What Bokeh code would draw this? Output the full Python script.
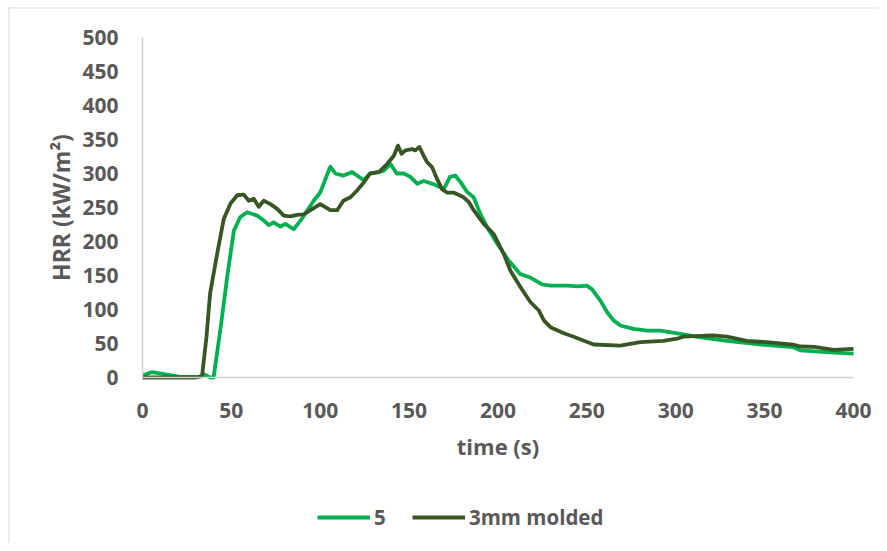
from bokeh.plotting import figure
from bokeh.models import Range1d, Legend, LegendItem, FixedTicker, Span
from bokeh.embed import file_html
from bokeh.resources import INLINE

# ---- data ----
t_5 = [0, 5.5, 12, 21, 32, 34.5, 38, 40, 44, 47.6, 51.4, 55, 58.9, 64.5, 68.2, 71, 73.8,
       77.6, 80.4, 85, 89, 96.3, 100, 104, 105.7, 108.5, 113, 118, 120.7, 124.5, 128,
       135.7, 139.5, 143, 147, 150.7, 154.5, 158.2, 164, 169.5, 173, 176, 179, 182.6,
       186.3, 190, 193.9, 199.5, 206, 212.6, 218.2, 224.8, 229.5, 238.8, 245, 250, 252.8,
       257.6, 261.4, 265, 268.8, 276.3, 283.8, 291.3, 302.6, 313.9, 328.8, 345.7, 366,
       370, 387, 400]
hrr_5 = [3, 8, 5, 1, 1, 5, 0, 0, 74, 147, 216, 236, 243, 238, 231, 224, 228,
         222, 226, 218, 231, 260, 272, 299, 310, 300, 297, 302, 297, 290, 300,
         304, 314, 300, 300, 295, 285, 289, 284, 277, 295, 297, 287, 273,
         265, 241, 221, 197, 172, 152, 147, 137, 135, 135, 134, 135, 130,
         113, 96, 84, 76.5, 71.5, 69, 69, 64, 59, 54, 49, 44.6,
         40, 37, 35]

t_3mm = [0, 10, 20, 30, 33.5, 36, 38, 42, 45.7, 49.5, 53.3, 57, 59.8, 62.6, 65.4, 68.2,
         72, 75.8, 79.5, 83.2, 87, 90.7, 94.5, 100, 105.7, 109.5, 113, 117, 120.7, 124.5,
         128, 133, 137.6, 141.4, 143.7, 145.7, 147.9, 151.7, 153.5, 155.8, 158.2, 160,
         163, 165.7, 168.5, 171.3, 175, 180.7, 183.6, 186.3, 192, 197.6, 203.2, 207,
         212.6, 218.2, 223, 225.8, 229.5, 237, 242.6, 253.8, 268.8, 280, 293, 300.7,
         304.4, 321, 328.8, 340, 351, 366, 370, 378, 388.8, 400]
hrr_3mm = [0, 0, 0, 0, 2, 60, 123, 182, 233, 256, 268, 269, 260, 263, 251, 260,
           255, 248, 238, 237, 239, 240, 246, 255, 246, 246, 260, 265, 275, 287,
           300, 302, 314, 326, 341, 329, 334, 336, 334, 339, 326, 317,
           309, 292, 277, 272, 272, 265, 258, 246, 226, 211, 182, 157,
           133, 111, 98.5, 84, 74, 65, 60, 48.5, 47, 52, 54, 57,
           60, 62, 60, 54, 52, 48.5, 45.6, 45, 40.6, 42]

series_names = ["5", "3mm molded"]
x_ticks = [0, 50, 100, 150, 200, 250, 300, 350, 400]
y_ticks = [0, 50, 100, 150, 200, 250, 300, 350, 400, 450, 500]
X_MIN, X_MAX = 0, 400
Y_MIN, Y_MAX = 0, 500

# ---- layout (pixels) ----
W, H = 879, 543
FL, FT = 7, 6                 # frame left/top (frame covers the whole chart area)
AX_L, AX_R = 142, 853         # plot area left/right
AX_T, AX_B = 37, 377          # plot area top/bottom
kx = (AX_R - AX_L) / (X_MAX - X_MIN)
ky = (AX_B - AX_T) / (Y_MAX - Y_MIN)
x0 = X_MIN - (AX_L - FL) / kx
x1 = X_MAX + (W - AX_R) / kx
y1 = Y_MAX + (AX_T - FT) / ky
y0 = Y_MIN - (H - AX_B) / ky

FONT = "Open Sans"
TXT = "#595959"

p = figure(width=W, height=H, output_backend="svg", toolbar_location=None,
           x_range=Range1d(x0, x1), y_range=Range1d(y0, y1),
           min_border_left=FL, min_border_right=0, min_border_top=FT, min_border_bottom=0)
p.outline_line_color = None
p.xgrid.visible = False
p.ygrid.visible = False
p.background_fill_color = "white"
p.border_fill_color = "white"

# chart-area border (left and top edges)
p.add_layout(Span(location=x0 + 1.5 / kx, dimension="height", line_color="#d9d9d9", line_width=1))
p.add_layout(Span(location=y1 - 1.5 / ky, dimension="width", line_color="#d9d9d9", line_width=1))

r1 = p.line(t_5, hrr_5, line_color="#00B050", line_width=3.8, line_join="round")
r2 = p.line(t_3mm, hrr_3mm, line_color="#375623", line_width=3.8, line_join="round")

for ax in (p.xaxis[0], p.yaxis[0]):
    ax.axis_line_color = "#d0d0d0"
    ax.axis_line_width = 1.5
    ax.major_tick_line_color = None
    ax.minor_tick_line_color = None
    ax.major_label_text_font = FONT
    ax.major_label_text_font_style = "bold"
    ax.major_label_text_font_size = "21px"
    ax.major_label_text_color = TXT
    ax.axis_label_text_font = FONT
    ax.axis_label_text_font_style = "bold"
    ax.axis_label_text_color = TXT

p.xaxis[0].fixed_location = Y_MIN
p.yaxis[0].fixed_location = X_MIN
p.xaxis[0].bounds = (X_MIN, X_MAX)
p.yaxis[0].bounds = (Y_MIN, Y_MAX)
p.xaxis[0].axis_label_text_font_size = "22px"
p.yaxis[0].axis_label_text_font_size = "23px"
p.xaxis[0].ticker = FixedTicker(ticks=x_ticks)
p.yaxis[0].ticker = FixedTicker(ticks=y_ticks)
p.xaxis[0].axis_label = "time (s)"
p.yaxis[0].axis_label = "HRR (kW/m²)"
p.xaxis[0].major_label_standoff = 19
p.yaxis[0].major_label_standoff = 18
p.xaxis[0].axis_label_standoff = 10
p.yaxis[0].axis_label_standoff = 2

legend = Legend(items=[LegendItem(label=series_names[0], renderers=[r1]),
                       LegendItem(label=series_names[1], renderers=[r2])],
                orientation="horizontal", location=(317 - FL, 12),
                padding=0, margin=0, spacing=18, glyph_width=53, glyph_height=26,
                label_height=26, label_standoff=4,
                label_text_font=FONT, label_text_font_style="bold",
                label_text_font_size="20.5px", label_text_color=TXT,
                border_line_color=None, background_fill_alpha=0)
p.add_layout(legend, "center")

open("out.html", "w").write(file_html(p, INLINE))
